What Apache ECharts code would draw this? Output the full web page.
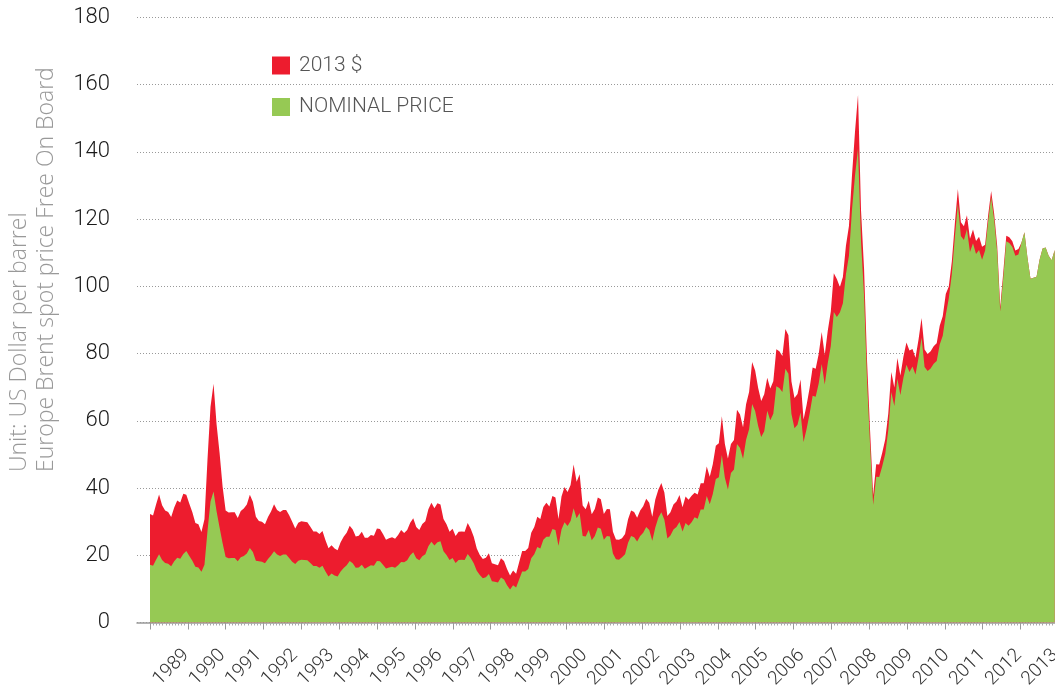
<!DOCTYPE html>
<html>
<head>
<meta charset="utf-8">
<script src="https://cdn.jsdelivr.net/npm/echarts/dist/echarts.min.js"></script>
<style>
html,body{margin:0;padding:0;background:#fff;}
#chart{width:1055px;height:691px;}
</style>
</head>
<body>
<div id="chart"></div>
<script>
// Year labels (one per year, placed at the end of each year)
const years = [1989,1990,1991,1992,1993,1994,1995,1996,1997,1998,1999,2000,2001,2002,2003,2004,2005,2006,2007,2008,2009,2010,2011,2012,2013];
const yTicks = [0,20,40,60,80,100,120,140,160,180];
const seriesNames = ['2013 $', 'NOMINAL PRICE'];

// Monthly Brent price, nominal US$ per barrel, Jan 1989 .. Dec 2013
const nominal = [
 17.2,16.9,18.7,20.3,18.6,17.7,17.5,16.7,18.2,19.3,19.0,20.4,
 21.3,19.8,18.4,16.6,16.4,15.1,17.2,27.2,36.0,39.0,33.1,28.3,
 23.6,19.5,19.1,19.2,19.2,18.2,19.4,19.8,20.5,22.2,21.0,18.4,
 18.2,18.1,17.6,18.9,19.9,21.2,20.2,19.8,20.2,20.2,19.2,18.1,
 17.4,18.4,18.7,18.6,18.5,17.7,16.8,16.8,16.3,16.9,15.2,13.7,
 14.6,14.0,13.7,15.2,16.2,17.0,18.3,17.6,16.3,16.4,17.2,16.0,
 16.5,17.0,16.9,18.3,18.2,17.2,16.1,16.4,16.6,16.3,17.0,18.0,
 17.9,18.5,20.0,20.9,19.1,18.5,19.7,20.3,22.7,24.0,22.9,23.9,
 24.2,21.2,20.1,18.6,19.2,17.7,18.6,18.7,18.6,20.4,19.2,17.6,
 15.4,14.1,13.2,13.5,14.4,12.3,12.1,11.9,13.4,12.8,11.1,9.8,
 11.1,10.4,12.8,15.2,15.2,15.9,19.1,20.3,22.5,22.0,24.6,25.5,
 25.5,27.8,27.5,22.8,27.7,29.8,28.7,30.2,34.0,31.0,32.6,25.7,
 25.6,27.5,24.5,25.7,28.3,27.9,24.6,25.7,25.6,20.5,18.8,18.7,
 19.4,20.3,23.7,25.7,25.4,24.1,25.7,26.7,28.4,27.5,24.3,28.3,
 31.2,32.8,30.6,25.0,25.9,27.7,28.4,29.9,27.1,29.6,28.8,29.8,
 31.3,30.9,33.6,33.6,37.6,35.2,38.2,42.7,43.2,49.8,43.1,39.6,
 44.5,45.5,53.1,51.9,48.7,54.4,57.5,65.0,62.9,58.5,55.2,56.9,
 63.0,60.2,62.1,70.3,69.8,68.6,75.5,74.0,62.0,57.8,58.8,62.5,
 53.7,57.6,62.1,67.5,67.2,71.1,76.9,70.8,77.2,82.3,92.4,90.9,
 92.2,95.0,103.6,109.1,122.8,133.0,141.0,113.2,97.2,71.6,52.5,35.0,
 43.4,43.3,46.5,50.2,57.3,68.6,64.4,72.5,67.7,72.8,76.7,74.5,
 76.2,73.8,78.8,84.8,76.0,74.8,75.6,77.0,77.8,82.7,85.3,91.5,
 96.5,103.7,114.6,124.5,115.0,113.8,117.0,110.2,112.8,109.6,110.8,107.9,
 110.7,119.3,126.5,119.8,110.3,92.5,102.6,113.4,112.9,111.7,109.1,109.5,
 113.0,116.1,108.5,102.3,102.6,102.9,107.9,111.3,111.6,109.1,107.8,110.8
];

// Monthly Brent price in 2013 dollars, Jan 1989 .. Dec 2013
const real2013 = [
 32.3,31.8,35.1,38.1,34.9,33.3,32.9,31.4,34.2,36.3,35.7,38.3,
 38.0,35.3,32.8,29.6,29.2,26.9,30.7,48.5,64.2,71.0,59.0,50.4,
 40.4,33.3,32.7,32.8,32.8,31.1,33.2,33.9,35.1,38.0,35.9,31.5,
 30.2,30.0,29.2,31.4,33.0,35.2,33.5,32.9,33.5,33.5,31.9,30.0,
 28.0,29.7,30.1,30.0,29.8,28.5,27.1,27.1,26.3,27.2,24.5,22.1,
 23.0,22.0,21.5,23.9,25.5,26.7,28.8,27.7,25.6,25.8,27.0,25.2,
 25.2,26.0,25.8,28.0,27.8,26.3,24.6,25.1,25.4,24.9,26.0,27.5,
 26.6,27.5,29.7,31.0,28.4,27.5,29.3,30.1,33.7,35.6,34.0,35.5,
 35.1,30.8,29.2,27.0,27.9,25.7,27.0,27.1,27.0,29.6,27.9,25.5,
 22.0,20.1,18.9,19.3,20.6,17.6,17.3,17.0,19.1,18.3,15.9,14.0,
 15.5,14.5,17.9,21.3,21.3,22.2,26.7,28.4,31.5,30.8,34.4,35.6,
 34.5,37.6,37.2,30.8,37.5,40.3,38.8,40.9,47.0,41.9,44.1,34.8,
 33.7,36.2,32.2,33.8,37.2,36.7,32.3,33.8,33.7,27.0,24.7,24.6,
 25.1,26.3,30.7,33.3,32.9,31.2,33.3,34.6,36.8,35.6,31.5,36.6,
 39.5,41.5,38.7,31.7,32.8,35.1,36.0,37.9,34.3,37.5,36.5,37.7,
 38.6,38.1,41.4,41.4,46.4,43.4,47.1,52.6,53.3,61.4,53.1,48.8,
 53.1,54.3,63.3,61.9,58.1,64.9,68.6,77.5,75.0,69.8,65.9,67.9,
 72.8,69.6,71.8,81.3,80.7,79.3,87.3,85.5,71.7,66.8,68.0,72.3,
 60.4,64.7,69.8,75.9,75.5,79.9,86.4,79.6,86.8,92.5,103.9,102.2,
 99.8,102.8,112.1,118.0,132.9,146.0,157.0,122.5,105.2,77.5,56.8,37.9,
 47.1,47.0,50.5,54.5,62.2,74.5,69.9,78.7,73.5,79.1,83.3,80.9,
 81.4,78.8,84.2,90.6,81.2,79.9,80.7,82.2,83.1,88.3,91.1,97.7,
 100.0,107.4,118.7,129.0,119.1,117.9,121.2,114.2,116.9,113.5,114.8,111.8,
 112.4,121.1,128.4,121.6,112.0,93.9,104.1,115.1,114.6,113.4,110.7,111.1,
 113.0,116.1,108.5,102.3,102.6,102.9,107.9,111.3,111.6,109.1,107.8,110.8
];

const RED = '#ED1C2E';
const GREEN = '#96C954';
const FONT = 'Roboto';

const chart = echarts.init(document.getElementById('chart'), null, {renderer: 'canvas'});

chart.setOption({
  animation: false,
  backgroundColor: '#ffffff',
  grid: [
    {left: 150, top: 17.5, right: 0, height: 605, outerBoundsMode: 'none', containLabel: false},
    {left: 137, top: 17.5, right: 0, height: 605, outerBoundsMode: 'none', containLabel: false}
  ],
  legend: {
    data: seriesNames,
    orient: 'vertical',
    left: 272, top: 55, padding: 0,
    itemWidth: 18, itemHeight: 18, itemGap: 20.5,
    icon: 'rect',
    textStyle: {fontSize: 21, color: '#555', fontFamily: FONT, fontWeight: 300, padding: [0,0,0,4]}
  },
  xAxis: [
    { // monthly data axis (month index from Jan 1989)
      type: 'value', gridIndex: 0, position: 'bottom', min: 0, max: 299.1, show: false
    },
    { // tick-only axis
      type: 'value', gridIndex: 0, position: 'bottom', min: 0, max: 23.91, interval: 1,
      axisLine: {show: false},
      axisTick: {show: true, length: 7, lineStyle: {color: '#999', width: 1}},
      minorTick: {show: true, splitNumber: 12, length: 3, lineStyle: {color: '#aaa', width: 1}},
      axisLabel: {show: false}, splitLine: {show: false}, minorSplitLine: {show: false}
    },
    { // base line
      type: 'value', gridIndex: 1, position: 'bottom', min: 0, max: 1,
      axisLine: {show: true, lineStyle: {color: '#999', width: 1.5}},
      axisTick: {show: false}, axisLabel: {show: false}, splitLine: {show: false}
    },
    { // year labels
      type: 'value', gridIndex: 0, position: 'bottom', min: 0, max: 25, interval: 1,
      axisLine: {show: false}, axisTick: {show: false}, splitLine: {show: false},
      axisLabel: {
        rotate: 45, margin: 30, fontSize: 19, color: '#333', fontFamily: FONT, fontWeight: 300,
        showMaxLabel: true,
        formatter: function (v) {
          const r = Math.round(v);
          const k = r - 1;
          return (Math.abs(v - r) < 1e-6 && k >= 0 && k < years.length) ? String(years[k]) : '';
        }
      }
    }
  ],
  yAxis: [
    {type: 'value', gridIndex: 0, min: 0, max: 180, show: false},
    {
      type: 'value', gridIndex: 1, min: 0, max: 180, interval: 20,
      axisLine: {show: false}, axisTick: {show: false},
      axisLabel: {
        margin: 27, fontSize: 22, color: '#1a1a1a', fontFamily: FONT, fontWeight: 300,
        formatter: function (v) { return yTicks.indexOf(v) >= 0 ? String(v) : ''; }
      },
      splitLine: {show: true, lineStyle: {type: [1, 2], color: '#999', width: 1}}
    }
  ],
  graphic: [{
    type: 'text',
    x: 6, y: 472,
    rotation: Math.PI / 2,
    silent: true,
    style: {
      text: 'Unit: US Dollar per barrel\nEurope Brent spot price Free On Board',
      fontSize: 23, fontFamily: 'Open Sans', fontWeight: 300,
      fill: '#999', lineHeight: 27, align: 'left', verticalAlign: 'top'
    }
  }],
  series: [
    {
      name: seriesNames[0], type: 'line', xAxisIndex: 0, yAxisIndex: 0,
      data: real2013.map(function (v, i) { return [i, v]; }),
      symbol: 'none', showSymbol: false, silent: true,
      lineStyle: {width: 0}, itemStyle: {color: RED},
      areaStyle: {color: RED, opacity: 1}
    },
    {
      name: seriesNames[1], type: 'line', xAxisIndex: 0, yAxisIndex: 0,
      data: nominal.map(function (v, i) { return [i, v]; }),
      symbol: 'none', showSymbol: false, silent: true,
      lineStyle: {width: 0}, itemStyle: {color: GREEN},
      areaStyle: {color: GREEN, opacity: 1}
    }
  ]
});
</script>
</body>
</html>
